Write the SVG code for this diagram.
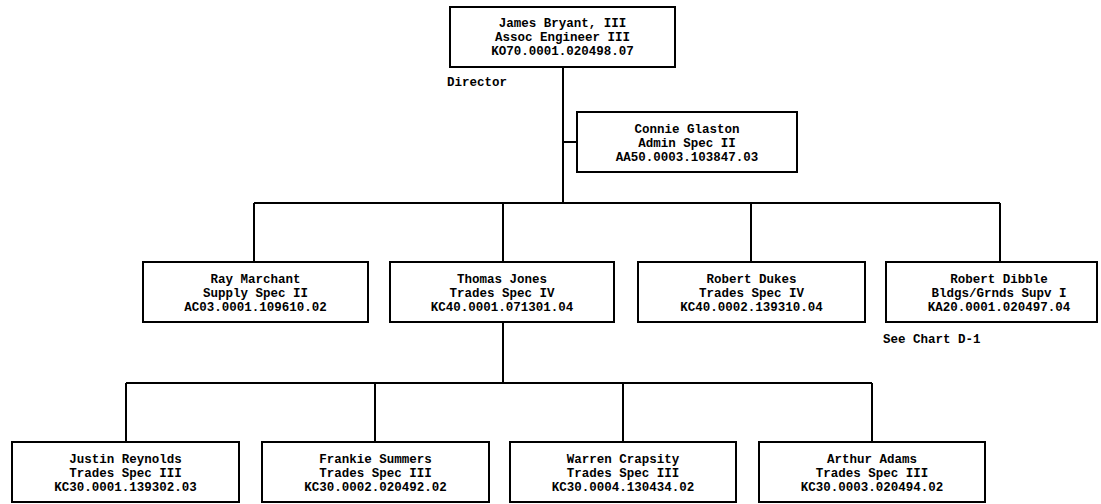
<svg xmlns="http://www.w3.org/2000/svg" width="1101" height="504" viewBox="0 0 1101 504">
<style>
.box{fill:#fff;stroke:#000;stroke-width:2}
.t{font-family:"Liberation Mono","DejaVu Sans Mono",monospace;font-weight:bold;font-size:12.5px;fill:#000;text-anchor:middle}
.l{font-family:"Liberation Mono","DejaVu Sans Mono",monospace;font-weight:bold;font-size:12.5px;fill:#000}
.c{fill:none;stroke:#000;stroke-width:2}
</style>
<rect width="1101" height="504" fill="#fff"/>
<g id="connectors">
<path class="c" d="M563 67V203M563 142H577M254 203H1000M254 203V262M503 203V262M751 203V262M1000 203V262M503 322V383M126 383H872M126 383V442M375 383V442M623 383V442M872 383V442"/>
</g>
<g id="n-bryant"><rect class="box" x="450" y="7" width="225" height="60"/>
<text class="t" x="562.5" y="27">James Bryant, III</text><text class="t" x="562.5" y="41">Assoc Engineer III</text><text class="t" x="562.5" y="55">KO70.0001.020498.07</text></g>
<text id="lbl-director" class="l" x="447" y="86">Director</text>
<g id="n-glaston"><rect class="box" x="577" y="112" width="220" height="60"/>
<text class="t" x="687" y="133">Connie Glaston</text><text class="t" x="687" y="147">Admin Spec II</text><text class="t" x="687" y="161">AA50.0003.103847.03</text></g>
<g id="n-marchant"><rect class="box" x="143" y="262" width="225" height="60"/>
<text class="t" x="255.5" y="283">Ray Marchant</text><text class="t" x="255.5" y="297">Supply Spec II</text><text class="t" x="255.5" y="311">AC03.0001.109610.02</text></g>
<g id="n-jones"><rect class="box" x="390" y="262" width="224" height="60"/>
<text class="t" x="502" y="283">Thomas Jones</text><text class="t" x="502" y="297">Trades Spec IV</text><text class="t" x="502" y="311">KC40.0001.071301.04</text></g>
<g id="n-dukes"><rect class="box" x="638" y="262" width="227" height="60"/>
<text class="t" x="751.5" y="283">Robert Dukes</text><text class="t" x="751.5" y="297">Trades Spec IV</text><text class="t" x="751.5" y="311">KC40.0002.139310.04</text></g>
<g id="n-dibble"><rect class="box" x="886" y="262" width="211" height="60"/>
<text class="t" x="999" y="283">Robert Dibble</text><text class="t" x="999" y="297">Bldgs/Grnds Supv I</text><text class="t" x="999" y="311">KA20.0001.020497.04</text></g>
<text id="lbl-seechart" class="l" x="883" y="343">See Chart D-1</text>
<g id="n-reynolds"><rect class="box" x="12" y="442" width="227" height="60"/>
<text class="t" x="125.5" y="463">Justin Reynolds</text><text class="t" x="125.5" y="477">Trades Spec III</text><text class="t" x="125.5" y="491">KC30.0001.139302.03</text></g>
<g id="n-summers"><rect class="box" x="262" y="442" width="227" height="60"/>
<text class="t" x="375.5" y="463">Frankie Summers</text><text class="t" x="375.5" y="477">Trades Spec III</text><text class="t" x="375.5" y="491">KC30.0002.020492.02</text></g>
<g id="n-crapsity"><rect class="box" x="510" y="442" width="226" height="60"/>
<text class="t" x="623" y="463">Warren Crapsity</text><text class="t" x="623" y="477">Trades Spec III</text><text class="t" x="623" y="491">KC30.0004.130434.02</text></g>
<g id="n-adams"><rect class="box" x="759" y="442" width="226" height="60"/>
<text class="t" x="872" y="463">Arthur Adams</text><text class="t" x="872" y="477">Trades Spec III</text><text class="t" x="872" y="491">KC30.0003.020494.02</text></g>
</svg>
